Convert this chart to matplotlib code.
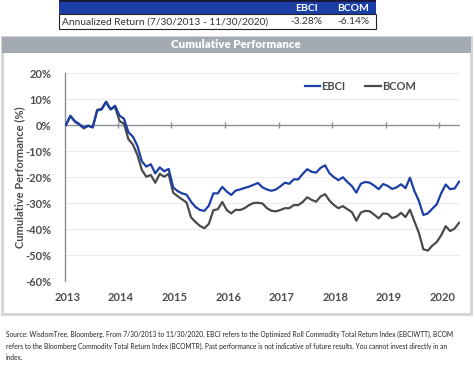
import matplotlib
matplotlib.use("Agg")
import matplotlib.pyplot as plt
from matplotlib.patches import Rectangle

# ---------------- data ----------------
year_labels = ["2013", "2014", "2015", "2016", "2017", "2018", "2019", "2020"]
# monthly cumulative performance (%), Jul 2013 .. Nov 2020
ebci = [0, 3.5, 1.5, 0.3, -1.0, -0.3, -0.9, 5.5, 6.0, 8.8, 6.0, 7.4,
        3.6, 2.4, -2.8, -4.5, -8.0, -14.0, -16.0, -15.1, -18.6, -16.3, -17.8, -16.9,
        -24.0, -25.4, -26.3, -26.8, -29.5, -31.5, -32.7, -33.0, -31.0, -26.3, -26.3, -23.8,
        -25.6, -26.9, -25.2, -24.8, -24.2, -23.7, -23.0, -22.3, -24.0, -24.8, -25.3, -24.8,
        -23.6, -22.2, -22.6, -20.9, -20.9, -18.8, -17.0, -18.0, -18.3, -16.5, -15.5, -18.6,
        -20.1, -21.2, -20.1, -21.9, -23.5, -26.0, -22.6, -21.9, -22.2, -23.3, -24.7, -22.7,
        -23.4, -24.6, -24.0, -22.8, -24.3, -20.3, -25.4, -29.2, -34.6, -34.0, -32.2, -30.5,
        -26.2, -22.9, -24.7, -24.4, -21.8]
bcom = [0, 3.5, 1.3, 0.2, -1.3, -0.3, -0.9, 5.8, 6.2, 9.0, 6.0, 7.0,
        1.5, 0.5, -5.5, -7.5, -11.5, -17.3, -19.9, -19.2, -22.2, -18.8, -19.9, -18.8,
        -26.0, -27.4, -28.6, -29.8, -35.5, -37.3, -38.8, -39.7, -38.0, -32.8, -32.4, -29.6,
        -32.7, -34.0, -32.6, -32.7, -32.0, -30.8, -30.0, -29.9, -30.2, -32.0, -33.0, -33.2,
        -32.7, -32.0, -32.0, -30.8, -30.8, -29.6, -27.8, -28.8, -29.5, -27.5, -26.6, -29.1,
        -30.8, -32.0, -31.2, -32.4, -33.5, -36.8, -33.7, -33.0, -33.2, -34.5, -35.9, -34.0,
        -34.2, -35.8, -35.2, -33.8, -35.4, -32.6, -37.1, -41.5, -47.8, -48.3, -46.4, -45.0,
        -42.4, -38.9, -40.8, -39.8, -37.6]
months = list(range(len(ebci)))
series_names = ["EBCI", "BCOM"]
table_row_label = "Annualized Return (7/30/2013 - 11/30/2020)"
table_values = ["-3.28%", "-6.14%"]
footnote = ("Source: WisdomTree, Bloomberg. From 7/30/2013 to 11/30/2020. EBCI refers to the Optimized Roll Commodity Total Return Index (EBCIWTT), BCOM\n"
            "refers to the Bloomberg Commodity Total Return Index (BCOMTR). Past performance is not indicative of future results. You cannot invest directly in an\n"
            "index.")

# ---------------- figure ----------------
W, H = 474, 365
fig = plt.figure(figsize=(W / 100, H / 100), dpi=100)
fig.patch.set_facecolor("white")
FONT = "Lato"
BLUE = "#1b3fa6"
GRAY = "#4a4a4a"
TXT = "#4d4d4d"


def px_rect(x0, y0, x1, y1, **kw):
    fig.patches.append(Rectangle((x0 / W, 1 - y1 / H), (x1 - x0) / W, (y1 - y0) / H,
                                 transform=fig.transFigure, figure=fig, zorder=-5, **kw))


def px_text(x, y, s, **kw):
    fig.text(x / W, 1 - y / H, s, **kw)


# table
px_rect(59, 0, 376, 2.5, facecolor="#1a1a40", edgecolor="none")
px_rect(59, 2.5, 376, 14, facecolor=BLUE, edgecolor="none")
px_rect(59, 14, 376, 29, facecolor="white", edgecolor="#222222", linewidth=0.8)
for xd in (283, 329):
    px_rect(xd - 0.4, 14, xd + 0.4, 29, facecolor="#222222", edgecolor="none")
px_text(306, 8.5, series_names[0], color="white", fontsize=7.5, fontweight="bold",
        family=FONT, ha="center", va="center")
px_text(353, 8.5, series_names[1], color="white", fontsize=7.5, fontweight="bold",
        family=FONT, ha="center", va="center")
px_text(62, 22, table_row_label, color="#333333", fontsize=7.3, family=FONT,
        ha="left", va="center")
px_text(306, 22, table_values[0], color="#333333", fontsize=7.3, family=FONT,
        ha="center", va="center")
px_text(353, 22, table_values[1], color="#333333", fontsize=7.3, family=FONT,
        ha="center", va="center")

# panel
px_rect(1.5, 37, 471, 314, facecolor="white", edgecolor="#d6d6d6", linewidth=2.2)
px_rect(1.5, 37, 471, 53, facecolor="#a3aab1", edgecolor="none")
px_text(236, 45, "Cumulative Performance", color="white", fontsize=8.3,
        fontweight="heavy", family=FONT, ha="center", va="center")

# footnote
px_text(6, 331, footnote, color="#222222", fontsize=4.75, family=FONT,
        ha="left", va="top", linespacing=1.7)

# ---------------- axes ----------------
ax_l, ax_r, ax_t, ax_b = 65, 460, 73, 281
ax = fig.add_axes([ax_l / W, 1 - ax_b / H, (ax_r - ax_l) / W, (ax_b - ax_t) / H])
ax.set_zorder(5)
ax.set_facecolor("none")
ax.plot(months, bcom, color=GRAY, linewidth=1.6, label=series_names[1], zorder=3)
ax.plot(months, ebci, color=BLUE, linewidth=1.6, label=series_names[0], zorder=4)
ax.set_xlim(-0.2, 88.2)
ax.set_ylim(-60, 20)
ax.set_yticks(range(-60, 21, 10))
ax.set_yticklabels([f"{v}%" for v in range(-60, 21, 10)])
ax.yaxis.grid(True, color="#ececec", linewidth=0.8)
ax.set_axisbelow(True)
ax.axhline(0, color="#8a9096", linewidth=1.0, zorder=2)
for s in ("top", "right", "bottom"):
    ax.spines[s].set_visible(False)
ax.spines["left"].set_color("#8a9096")
ax.spines["left"].set_linewidth(1.0)
ax.tick_params(axis="y", length=0, pad=10, labelsize=8, labelcolor=TXT)
ax.set_xticks([12 * i + 0.3 for i in range(len(year_labels))])
ax.set_xticklabels(year_labels)
ax.tick_params(axis="x", length=0, pad=8, labelsize=8, labelcolor=TXT)
for lab in ax.get_xticklabels() + ax.get_yticklabels():
    lab.set_fontweight("bold")
    lab.set_family(FONT)

sec = ax.secondary_xaxis(0.75)
sec.set_xticks([12 * i - 0.4 for i in range(1, len(year_labels))])
sec.set_xticklabels([])
sec.tick_params(axis="x", direction="inout", length=5, color="#8a9096", width=1.0)
sec.spines["bottom"].set_visible(False)
sec.spines["top"].set_visible(False)

ax.set_ylabel("Cumulative Performance (%)", fontsize=8, fontweight="bold",
              color=TXT, family=FONT)
ax.yaxis.set_label_coords(-0.100, 0.5)

h, l = ax.get_legend_handles_labels()
leg = ax.legend(h[::-1], l[::-1], loc="upper right", bbox_to_anchor=(0.914, 1.01),
                ncol=2, frameon=False, handlelength=1.4, handletextpad=0.1,
                columnspacing=1.8, prop={"family": FONT, "weight": "bold", "size": 8})
for t in leg.get_texts():
    t.set_color(TXT)

fig.savefig("out.png", dpi=100, facecolor="white")
